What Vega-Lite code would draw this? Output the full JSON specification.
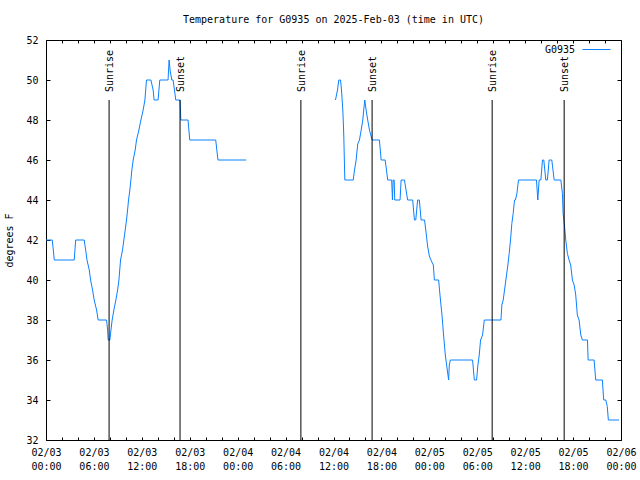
{
  "$schema": "https://vega.github.io/schema/vega-lite/v6.json",
  "width": 575,
  "height": 400,
  "autosize": {"type": "none"},
  "padding": {"left": 46, "top": 40, "right": 19, "bottom": 40},
  "background": "white",
  "config": {
    "font": "DejaVu Sans Mono",
    "view": {"stroke": "black", "strokeWidth": 1},
    "axis": {"labelFont": "DejaVu Sans Mono", "labelFontSize": 10, "labelColor": "black", "tickColor": "black", "domain": false, "grid": false, "titleFont": "DejaVu Sans Mono", "titleFontSize": 10, "titleFontWeight": "normal", "titleColor": "black", "labelOverlap": false, "tickCount": 100}
  },
  "title": {"text": "Temperature for G0935 on 2025-Feb-03 (time in UTC)", "fontSize": 10, "fontWeight": "normal", "font": "DejaVu Sans Mono", "color": "black", "offset": 10, "anchor": "middle"},
  "datasets": {
    "sun": [
      {"t": "2025-02-03T07:54:00Z", "event": "Sunrise"},
      {"t": "2025-02-03T16:47:00Z", "event": "Sunset"},
      {"t": "2025-02-04T07:55:00Z", "event": "Sunrise"},
      {"t": "2025-02-04T16:50:00Z", "event": "Sunset"},
      {"t": "2025-02-05T07:52:00Z", "event": "Sunrise"},
      {"t": "2025-02-05T16:53:00Z", "event": "Sunset"}
    ],
    "temps": [
      {"t": "2025-02-03T00:00:00Z", "temp": 42, "seg": 1, "station": "G0935"},
      {"t": "2025-02-03T00:47:00Z", "temp": 42, "seg": 1, "station": "G0935"},
      {"t": "2025-02-03T00:55:00Z", "temp": 41.5, "seg": 1, "station": "G0935"},
      {"t": "2025-02-03T01:02:00Z", "temp": 41, "seg": 1, "station": "G0935"},
      {"t": "2025-02-03T03:32:00Z", "temp": 41, "seg": 1, "station": "G0935"},
      {"t": "2025-02-03T03:43:00Z", "temp": 42, "seg": 1, "station": "G0935"},
      {"t": "2025-02-03T04:47:00Z", "temp": 42, "seg": 1, "station": "G0935"},
      {"t": "2025-02-03T04:58:00Z", "temp": 41.5, "seg": 1, "station": "G0935"},
      {"t": "2025-02-03T05:08:00Z", "temp": 41, "seg": 1, "station": "G0935"},
      {"t": "2025-02-03T05:25:00Z", "temp": 40.5, "seg": 1, "station": "G0935"},
      {"t": "2025-02-03T05:35:00Z", "temp": 40, "seg": 1, "station": "G0935"},
      {"t": "2025-02-03T05:50:00Z", "temp": 39.5, "seg": 1, "station": "G0935"},
      {"t": "2025-02-03T06:02:00Z", "temp": 39, "seg": 1, "station": "G0935"},
      {"t": "2025-02-03T06:20:00Z", "temp": 38.5, "seg": 1, "station": "G0935"},
      {"t": "2025-02-03T06:32:00Z", "temp": 38, "seg": 1, "station": "G0935"},
      {"t": "2025-02-03T07:35:00Z", "temp": 38, "seg": 1, "station": "G0935"},
      {"t": "2025-02-03T07:43:00Z", "temp": 37.5, "seg": 1, "station": "G0935"},
      {"t": "2025-02-03T07:47:00Z", "temp": 37, "seg": 1, "station": "G0935"},
      {"t": "2025-02-03T08:00:00Z", "temp": 37, "seg": 1, "station": "G0935"},
      {"t": "2025-02-03T08:08:00Z", "temp": 37.5, "seg": 1, "station": "G0935"},
      {"t": "2025-02-03T08:17:00Z", "temp": 38, "seg": 1, "station": "G0935"},
      {"t": "2025-02-03T08:30:00Z", "temp": 38.5, "seg": 1, "station": "G0935"},
      {"t": "2025-02-03T08:45:00Z", "temp": 39, "seg": 1, "station": "G0935"},
      {"t": "2025-02-03T08:58:00Z", "temp": 39.5, "seg": 1, "station": "G0935"},
      {"t": "2025-02-03T09:08:00Z", "temp": 40, "seg": 1, "station": "G0935"},
      {"t": "2025-02-03T09:20:00Z", "temp": 41, "seg": 1, "station": "G0935"},
      {"t": "2025-02-03T09:35:00Z", "temp": 41.5, "seg": 1, "station": "G0935"},
      {"t": "2025-02-03T09:45:00Z", "temp": 42, "seg": 1, "station": "G0935"},
      {"t": "2025-02-03T09:55:00Z", "temp": 42.5, "seg": 1, "station": "G0935"},
      {"t": "2025-02-03T10:05:00Z", "temp": 43, "seg": 1, "station": "G0935"},
      {"t": "2025-02-03T10:13:00Z", "temp": 43.5, "seg": 1, "station": "G0935"},
      {"t": "2025-02-03T10:20:00Z", "temp": 44, "seg": 1, "station": "G0935"},
      {"t": "2025-02-03T10:30:00Z", "temp": 44.5, "seg": 1, "station": "G0935"},
      {"t": "2025-02-03T10:38:00Z", "temp": 45, "seg": 1, "station": "G0935"},
      {"t": "2025-02-03T10:45:00Z", "temp": 45.5, "seg": 1, "station": "G0935"},
      {"t": "2025-02-03T10:55:00Z", "temp": 46, "seg": 1, "station": "G0935"},
      {"t": "2025-02-03T11:10:00Z", "temp": 46.5, "seg": 1, "station": "G0935"},
      {"t": "2025-02-03T11:20:00Z", "temp": 47, "seg": 1, "station": "G0935"},
      {"t": "2025-02-03T11:38:00Z", "temp": 47.5, "seg": 1, "station": "G0935"},
      {"t": "2025-02-03T11:53:00Z", "temp": 48, "seg": 1, "station": "G0935"},
      {"t": "2025-02-03T12:10:00Z", "temp": 48.5, "seg": 1, "station": "G0935"},
      {"t": "2025-02-03T12:23:00Z", "temp": 49, "seg": 1, "station": "G0935"},
      {"t": "2025-02-03T12:35:00Z", "temp": 50, "seg": 1, "station": "G0935"},
      {"t": "2025-02-03T13:08:00Z", "temp": 50, "seg": 1, "station": "G0935"},
      {"t": "2025-02-03T13:25:00Z", "temp": 49.5, "seg": 1, "station": "G0935"},
      {"t": "2025-02-03T13:32:00Z", "temp": 49, "seg": 1, "station": "G0935"},
      {"t": "2025-02-03T14:02:00Z", "temp": 49, "seg": 1, "station": "G0935"},
      {"t": "2025-02-03T14:15:00Z", "temp": 50, "seg": 1, "station": "G0935"},
      {"t": "2025-02-03T15:17:00Z", "temp": 50, "seg": 1, "station": "G0935"},
      {"t": "2025-02-03T15:25:00Z", "temp": 51, "seg": 1, "station": "G0935"},
      {"t": "2025-02-03T15:32:00Z", "temp": 50.5, "seg": 1, "station": "G0935"},
      {"t": "2025-02-03T15:45:00Z", "temp": 50, "seg": 1, "station": "G0935"},
      {"t": "2025-02-03T15:55:00Z", "temp": 50, "seg": 1, "station": "G0935"},
      {"t": "2025-02-03T16:05:00Z", "temp": 49.5, "seg": 1, "station": "G0935"},
      {"t": "2025-02-03T16:15:00Z", "temp": 49, "seg": 1, "station": "G0935"},
      {"t": "2025-02-03T16:47:00Z", "temp": 49, "seg": 1, "station": "G0935"},
      {"t": "2025-02-03T16:53:00Z", "temp": 48, "seg": 1, "station": "G0935"},
      {"t": "2025-02-03T17:47:00Z", "temp": 48, "seg": 1, "station": "G0935"},
      {"t": "2025-02-03T18:00:00Z", "temp": 47, "seg": 1, "station": "G0935"},
      {"t": "2025-02-03T21:15:00Z", "temp": 47, "seg": 1, "station": "G0935"},
      {"t": "2025-02-03T21:32:00Z", "temp": 46, "seg": 1, "station": "G0935"},
      {"t": "2025-02-04T01:05:00Z", "temp": 46, "seg": 1, "station": "G0935"},
      {"t": "2025-02-04T12:15:00Z", "temp": 49, "seg": 2, "station": "G0935"},
      {"t": "2025-02-04T12:30:00Z", "temp": 49.5, "seg": 2, "station": "G0935"},
      {"t": "2025-02-04T12:40:00Z", "temp": 50, "seg": 2, "station": "G0935"},
      {"t": "2025-02-04T12:53:00Z", "temp": 50, "seg": 2, "station": "G0935"},
      {"t": "2025-02-04T13:00:00Z", "temp": 49.5, "seg": 2, "station": "G0935"},
      {"t": "2025-02-04T13:10:00Z", "temp": 48.5, "seg": 2, "station": "G0935"},
      {"t": "2025-02-04T13:17:00Z", "temp": 47.3, "seg": 2, "station": "G0935"},
      {"t": "2025-02-04T13:25:00Z", "temp": 45, "seg": 2, "station": "G0935"},
      {"t": "2025-02-04T14:28:00Z", "temp": 45, "seg": 2, "station": "G0935"},
      {"t": "2025-02-04T14:38:00Z", "temp": 45.5, "seg": 2, "station": "G0935"},
      {"t": "2025-02-04T14:50:00Z", "temp": 46, "seg": 2, "station": "G0935"},
      {"t": "2025-02-04T15:02:00Z", "temp": 46.8, "seg": 2, "station": "G0935"},
      {"t": "2025-02-04T15:15:00Z", "temp": 47, "seg": 2, "station": "G0935"},
      {"t": "2025-02-04T15:28:00Z", "temp": 47.5, "seg": 2, "station": "G0935"},
      {"t": "2025-02-04T15:40:00Z", "temp": 48, "seg": 2, "station": "G0935"},
      {"t": "2025-02-04T15:47:00Z", "temp": 48.5, "seg": 2, "station": "G0935"},
      {"t": "2025-02-04T15:55:00Z", "temp": 49, "seg": 2, "station": "G0935"},
      {"t": "2025-02-04T16:05:00Z", "temp": 48.5, "seg": 2, "station": "G0935"},
      {"t": "2025-02-04T16:17:00Z", "temp": 48, "seg": 2, "station": "G0935"},
      {"t": "2025-02-04T16:30:00Z", "temp": 47.5, "seg": 2, "station": "G0935"},
      {"t": "2025-02-04T16:50:00Z", "temp": 47, "seg": 2, "station": "G0935"},
      {"t": "2025-02-04T17:45:00Z", "temp": 47, "seg": 2, "station": "G0935"},
      {"t": "2025-02-04T17:58:00Z", "temp": 46, "seg": 2, "station": "G0935"},
      {"t": "2025-02-04T18:28:00Z", "temp": 46, "seg": 2, "station": "G0935"},
      {"t": "2025-02-04T18:38:00Z", "temp": 45.5, "seg": 2, "station": "G0935"},
      {"t": "2025-02-04T18:47:00Z", "temp": 45, "seg": 2, "station": "G0935"},
      {"t": "2025-02-04T19:17:00Z", "temp": 45, "seg": 2, "station": "G0935"},
      {"t": "2025-02-04T19:23:00Z", "temp": 44, "seg": 2, "station": "G0935"},
      {"t": "2025-02-04T19:28:00Z", "temp": 45, "seg": 2, "station": "G0935"},
      {"t": "2025-02-04T19:36:00Z", "temp": 45, "seg": 2, "station": "G0935"},
      {"t": "2025-02-04T19:40:00Z", "temp": 44, "seg": 2, "station": "G0935"},
      {"t": "2025-02-04T20:20:00Z", "temp": 44, "seg": 2, "station": "G0935"},
      {"t": "2025-02-04T20:28:00Z", "temp": 45, "seg": 2, "station": "G0935"},
      {"t": "2025-02-04T20:53:00Z", "temp": 45, "seg": 2, "station": "G0935"},
      {"t": "2025-02-04T21:05:00Z", "temp": 44.5, "seg": 2, "station": "G0935"},
      {"t": "2025-02-04T21:17:00Z", "temp": 44, "seg": 2, "station": "G0935"},
      {"t": "2025-02-04T21:55:00Z", "temp": 44, "seg": 2, "station": "G0935"},
      {"t": "2025-02-04T22:08:00Z", "temp": 43, "seg": 2, "station": "G0935"},
      {"t": "2025-02-04T22:18:00Z", "temp": 43, "seg": 2, "station": "G0935"},
      {"t": "2025-02-04T22:32:00Z", "temp": 44, "seg": 2, "station": "G0935"},
      {"t": "2025-02-04T22:45:00Z", "temp": 44, "seg": 2, "station": "G0935"},
      {"t": "2025-02-04T22:58:00Z", "temp": 43, "seg": 2, "station": "G0935"},
      {"t": "2025-02-04T23:24:00Z", "temp": 43, "seg": 2, "station": "G0935"},
      {"t": "2025-02-04T23:35:00Z", "temp": 42.4, "seg": 2, "station": "G0935"},
      {"t": "2025-02-04T23:47:00Z", "temp": 41.7, "seg": 2, "station": "G0935"},
      {"t": "2025-02-05T00:00:00Z", "temp": 41.2, "seg": 2, "station": "G0935"},
      {"t": "2025-02-05T00:12:00Z", "temp": 41, "seg": 2, "station": "G0935"},
      {"t": "2025-02-05T00:30:00Z", "temp": 40.75, "seg": 2, "station": "G0935"},
      {"t": "2025-02-05T00:38:00Z", "temp": 40, "seg": 2, "station": "G0935"},
      {"t": "2025-02-05T01:10:00Z", "temp": 40, "seg": 2, "station": "G0935"},
      {"t": "2025-02-05T01:20:00Z", "temp": 39.25, "seg": 2, "station": "G0935"},
      {"t": "2025-02-05T01:35:00Z", "temp": 38.25, "seg": 2, "station": "G0935"},
      {"t": "2025-02-05T01:47:00Z", "temp": 37.25, "seg": 2, "station": "G0935"},
      {"t": "2025-02-05T02:00:00Z", "temp": 36.25, "seg": 2, "station": "G0935"},
      {"t": "2025-02-05T02:10:00Z", "temp": 35.75, "seg": 2, "station": "G0935"},
      {"t": "2025-02-05T02:25:00Z", "temp": 35, "seg": 2, "station": "G0935"},
      {"t": "2025-02-05T02:30:00Z", "temp": 35.75, "seg": 2, "station": "G0935"},
      {"t": "2025-02-05T02:38:00Z", "temp": 36, "seg": 2, "station": "G0935"},
      {"t": "2025-02-05T05:25:00Z", "temp": 36, "seg": 2, "station": "G0935"},
      {"t": "2025-02-05T05:38:00Z", "temp": 35, "seg": 2, "station": "G0935"},
      {"t": "2025-02-05T05:55:00Z", "temp": 35, "seg": 2, "station": "G0935"},
      {"t": "2025-02-05T06:05:00Z", "temp": 35.75, "seg": 2, "station": "G0935"},
      {"t": "2025-02-05T06:15:00Z", "temp": 36.25, "seg": 2, "station": "G0935"},
      {"t": "2025-02-05T06:25:00Z", "temp": 37, "seg": 2, "station": "G0935"},
      {"t": "2025-02-05T06:40:00Z", "temp": 37.25, "seg": 2, "station": "G0935"},
      {"t": "2025-02-05T06:53:00Z", "temp": 38, "seg": 2, "station": "G0935"},
      {"t": "2025-02-05T08:58:00Z", "temp": 38, "seg": 2, "station": "G0935"},
      {"t": "2025-02-05T09:05:00Z", "temp": 38.75, "seg": 2, "station": "G0935"},
      {"t": "2025-02-05T09:15:00Z", "temp": 39, "seg": 2, "station": "G0935"},
      {"t": "2025-02-05T09:30:00Z", "temp": 39.75, "seg": 2, "station": "G0935"},
      {"t": "2025-02-05T09:40:00Z", "temp": 40.25, "seg": 2, "station": "G0935"},
      {"t": "2025-02-05T09:50:00Z", "temp": 40.75, "seg": 2, "station": "G0935"},
      {"t": "2025-02-05T10:00:00Z", "temp": 41.33, "seg": 2, "station": "G0935"},
      {"t": "2025-02-05T10:10:00Z", "temp": 42, "seg": 2, "station": "G0935"},
      {"t": "2025-02-05T10:20:00Z", "temp": 42.83, "seg": 2, "station": "G0935"},
      {"t": "2025-02-05T10:30:00Z", "temp": 43.33, "seg": 2, "station": "G0935"},
      {"t": "2025-02-05T10:40:00Z", "temp": 44, "seg": 2, "station": "G0935"},
      {"t": "2025-02-05T10:47:00Z", "temp": 44, "seg": 2, "station": "G0935"},
      {"t": "2025-02-05T10:58:00Z", "temp": 44.33, "seg": 2, "station": "G0935"},
      {"t": "2025-02-05T11:10:00Z", "temp": 45, "seg": 2, "station": "G0935"},
      {"t": "2025-02-05T13:25:00Z", "temp": 45, "seg": 2, "station": "G0935"},
      {"t": "2025-02-05T13:35:00Z", "temp": 44, "seg": 2, "station": "G0935"},
      {"t": "2025-02-05T13:45:00Z", "temp": 45, "seg": 2, "station": "G0935"},
      {"t": "2025-02-05T13:58:00Z", "temp": 45, "seg": 2, "station": "G0935"},
      {"t": "2025-02-05T14:10:00Z", "temp": 46, "seg": 2, "station": "G0935"},
      {"t": "2025-02-05T14:20:00Z", "temp": 46, "seg": 2, "station": "G0935"},
      {"t": "2025-02-05T14:35:00Z", "temp": 45, "seg": 2, "station": "G0935"},
      {"t": "2025-02-05T14:47:00Z", "temp": 45, "seg": 2, "station": "G0935"},
      {"t": "2025-02-05T15:00:00Z", "temp": 46, "seg": 2, "station": "G0935"},
      {"t": "2025-02-05T15:20:00Z", "temp": 46, "seg": 2, "station": "G0935"},
      {"t": "2025-02-05T15:38:00Z", "temp": 45, "seg": 2, "station": "G0935"},
      {"t": "2025-02-05T16:28:00Z", "temp": 45, "seg": 2, "station": "G0935"},
      {"t": "2025-02-05T16:40:00Z", "temp": 44.33, "seg": 2, "station": "G0935"},
      {"t": "2025-02-05T16:45:00Z", "temp": 43.33, "seg": 2, "station": "G0935"},
      {"t": "2025-02-05T16:55:00Z", "temp": 42.75, "seg": 2, "station": "G0935"},
      {"t": "2025-02-05T17:05:00Z", "temp": 42, "seg": 2, "station": "G0935"},
      {"t": "2025-02-05T17:17:00Z", "temp": 41.33, "seg": 2, "station": "G0935"},
      {"t": "2025-02-05T17:30:00Z", "temp": 41, "seg": 2, "station": "G0935"},
      {"t": "2025-02-05T17:42:00Z", "temp": 40.75, "seg": 2, "station": "G0935"},
      {"t": "2025-02-05T17:55:00Z", "temp": 40, "seg": 2, "station": "G0935"},
      {"t": "2025-02-05T18:08:00Z", "temp": 39.75, "seg": 2, "station": "G0935"},
      {"t": "2025-02-05T18:20:00Z", "temp": 39.25, "seg": 2, "station": "G0935"},
      {"t": "2025-02-05T18:32:00Z", "temp": 38.25, "seg": 2, "station": "G0935"},
      {"t": "2025-02-05T18:45:00Z", "temp": 38, "seg": 2, "station": "G0935"},
      {"t": "2025-02-05T18:58:00Z", "temp": 37.25, "seg": 2, "station": "G0935"},
      {"t": "2025-02-05T19:10:00Z", "temp": 37, "seg": 2, "station": "G0935"},
      {"t": "2025-02-05T19:48:00Z", "temp": 37, "seg": 2, "station": "G0935"},
      {"t": "2025-02-05T19:53:00Z", "temp": 36, "seg": 2, "station": "G0935"},
      {"t": "2025-02-05T20:38:00Z", "temp": 36, "seg": 2, "station": "G0935"},
      {"t": "2025-02-05T20:50:00Z", "temp": 35, "seg": 2, "station": "G0935"},
      {"t": "2025-02-05T21:40:00Z", "temp": 35, "seg": 2, "station": "G0935"},
      {"t": "2025-02-05T21:50:00Z", "temp": 34, "seg": 2, "station": "G0935"},
      {"t": "2025-02-05T22:06:00Z", "temp": 34, "seg": 2, "station": "G0935"},
      {"t": "2025-02-05T22:17:00Z", "temp": 33.67, "seg": 2, "station": "G0935"},
      {"t": "2025-02-05T22:25:00Z", "temp": 33, "seg": 2, "station": "G0935"},
      {"t": "2025-02-05T23:45:00Z", "temp": 33, "seg": 2, "station": "G0935"}
    ]
  },
  "resolve": {"axis": {"x": "independent", "y": "independent"}},
  "layer": [
    {
      "data": {"name": "temps"},
      "mark": {"type": "line", "strokeWidth": 1},
      "encoding": {
        "x": {
          "field": "t", "type": "temporal",
          "scale": {"type": "utc", "domain": [1738540800000, 1738800000000], "nice": false},
          "axis": {"orient": "bottom", "title": null, "values": [1738540800000, 1738548000000, 1738555200000, 1738562400000, 1738569600000, 1738576800000, 1738584000000, 1738591200000, 1738598400000, 1738605600000, 1738612800000, 1738620000000, 1738627200000, 1738634400000, 1738641600000, 1738648800000, 1738656000000, 1738663200000, 1738670400000, 1738677600000, 1738684800000, 1738692000000, 1738699200000, 1738706400000, 1738713600000, 1738720800000, 1738728000000, 1738735200000, 1738742400000, 1738749600000, 1738756800000, 1738764000000, 1738771200000, 1738778400000, 1738785600000, 1738792800000, 1738800000000], "tickCount": 100, "tickSize": -3, "labelOverlap": false, "labelFlush": false, "labelBaseline": "top", "labelLineHeight": 14, "labelPadding": 10,
            "labelExpr": "utchours(datum.value) % 6 == 0 ? [utcFormat(datum.value, '%m/%d'), utcFormat(datum.value, '%H:%M')] : ''"}
        },
        "y": {
          "field": "temp", "type": "quantitative",
          "scale": {"domain": [32, 52], "nice": false, "zero": false},
          "axis": {"orient": "left", "title": "degrees F", "format": "d", "values": [32, 34, 36, 38, 40, 42, 44, 46, 48, 50, 52], "tickCount": 100, "tickSize": -4, "labelOverlap": false, "labelPadding": 12, "titlePadding": 11}
        },
        "color": {
          "field": "station", "type": "nominal",
          "scale": {"range": ["#0a80ff"]},
          "legend": {"title": null, "orient": "none", "legendX": 536, "legendY": -5, "padding": 0, "symbolType": "stroke", "symbolSize": 784, "symbolStrokeWidth": 1, "labelAlign": "right", "labelOffset": -36, "labelFont": "DejaVu Sans Mono", "labelFontSize": 10, "labelColor": "black"}
        },
        "detail": {"field": "seg", "type": "nominal"}
      }
    },
    {
      "data": {"name": "sun"},
      "mark": {"type": "rule", "color": "black", "strokeWidth": 1},
      "encoding": {
        "x": {"field": "t", "type": "temporal",
          "axis": {"orient": "top", "title": null, "labels": false, "values": [1738540800000, 1738548000000, 1738555200000, 1738562400000, 1738569600000, 1738576800000, 1738584000000, 1738591200000, 1738598400000, 1738605600000, 1738612800000, 1738620000000, 1738627200000, 1738634400000, 1738641600000, 1738648800000, 1738656000000, 1738663200000, 1738670400000, 1738677600000, 1738684800000, 1738692000000, 1738699200000, 1738706400000, 1738713600000, 1738720800000, 1738728000000, 1738735200000, 1738742400000, 1738749600000, 1738756800000, 1738764000000, 1738771200000, 1738778400000, 1738785600000, 1738792800000, 1738800000000], "tickCount": 100, "tickSize": -3}},
        "y": {"datum": 49, "type": "quantitative",
          "axis": {"orient": "right", "title": null, "labels": false, "format": "d", "values": [32, 34, 36, 38, 40, 42, 44, 46, 48, 50, 52], "tickCount": 100, "tickSize": -4}},
        "y2": {"datum": 32}
      }
    },
    {
      "data": {"name": "sun"},
      "mark": {"type": "text", "angle": 270, "align": "left", "baseline": "middle", "dx": 8, "dy": 1, "fontSize": 10, "font": "DejaVu Sans Mono", "color": "black"},
      "encoding": {
        "x": {"field": "t", "type": "temporal", "axis": null},
        "y": {"datum": 49, "type": "quantitative", "axis": null},
        "text": {"field": "event"}
      }
    }
  ]
}
